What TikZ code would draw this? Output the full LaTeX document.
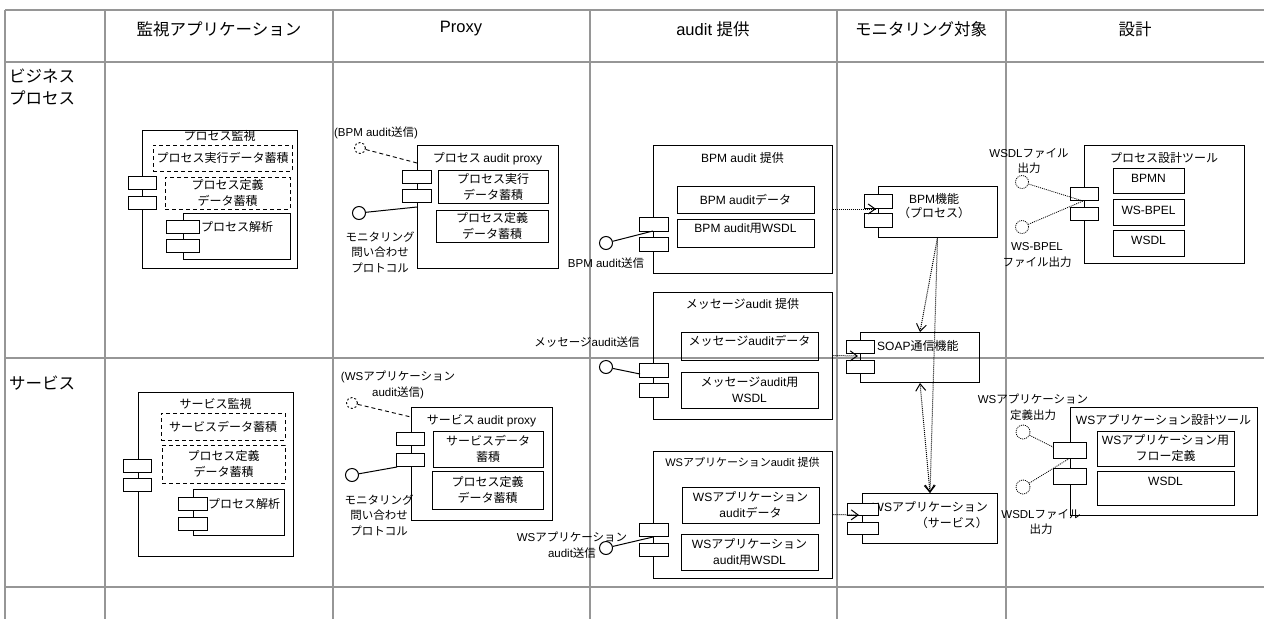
\documentclass[tikz,border=0pt]{standalone}
\usepackage{fontspec}
\setmainfont{Liberation Sans}
\newfontfamily\jpfont{Noto Sans CJK JP}
\XeTeXinterchartokenstate=1
\newXeTeXintercharclass\JPclass
\count255="3000 \loop\XeTeXcharclass\count255=\JPclass\ifnum\count255<"30FF \advance\count255 by 1 \repeat
\count255="4E00 \loop\XeTeXcharclass\count255=\JPclass\ifnum\count255<"9FFF \advance\count255 by 1 \repeat
\count255="FF00 \loop\XeTeXcharclass\count255=\JPclass\ifnum\count255<"FFEF \advance\count255 by 1 \repeat
\XeTeXinterchartoks 0 \JPclass = {\jpfont}
\XeTeXinterchartoks 4095 \JPclass = {\jpfont}
\XeTeXinterchartoks \JPclass 0 = {\rmfamily}
\XeTeXinterchartoks 4095 0 = {\rmfamily}
\usetikzlibrary{arrows.meta,positioning}
\definecolor{GridGray}{RGB}{150,150,150}

\begin{document}
\begin{tikzpicture}[x=1pt,y=-1pt,
    tbl/.style={draw=GridGray,line width=1.6pt},
    hdr/.style={inner sep=0,align=left,font=\fontsize{16.5}{22}\selectfont},
    sz/.style 2 args={minimum width=#1pt,minimum height=#2pt},
    comp/.style={draw,line width=1pt,inner sep=0},
    port/.style={draw,line width=1pt,fill=white,inner sep=0,minimum width=28pt,minimum height=13pt},
    part/.style={draw,line width=1pt,inner sep=0,align=center,font=\fontsize{12}{16}\selectfont},
    store/.style={part,dash pattern=on 4pt off 3pt},
    lift/.style={text height=9pt,text depth=#1},
    ttl/.style={inner sep=0,align=center,font=\fontsize{12}{16}\selectfont},
    lbl/.style={inner sep=0,align=center,font=\fontsize{11.5}{15.5}\selectfont},
    iface/.style={draw,line width=1pt,circle,fill=white,inner sep=0,minimum size=13pt},
    req/.style={draw,line width=0.9pt,circle,inner sep=0,minimum size=11pt,dash pattern=on 2pt off 2pt},
    optif/.style={draw,line width=0.8pt,circle,inner sep=0,minimum size=13pt,dash pattern=on 1pt off 1pt},
    wire/.style={line width=1pt},
    reqwire/.style={line width=0.9pt,dash pattern=on 4pt off 3pt},
    optwire/.style={line width=0.8pt,dash pattern=on 1pt off 1pt},
    dep/.style={line width=1pt,dash pattern=on 1pt off 1pt,-{Straight Barb[length=7pt,width=10pt]}},
    depboth/.style={line width=1pt,dash pattern=on 1pt off 1pt,{Straight Barb[length=7pt,width=10pt]}-{Straight Barb[length=7pt,width=10pt]}}
  ]
  \useasboundingbox (0,0) rectangle (1264,619);

  % table
  \foreach \x in {5,105,333,590,837,1006} \draw[tbl] (\x,10) -- (\x,619);
  \foreach \y in {10,62,358,587} \draw[tbl] (5,\y) -- (1264,\y);

  \node[hdr] (hMon) at (219,29) {監視アプリケーション};
  \node[hdr] (hPrx) at (461,29) {Proxy};
  \node[hdr] (hAud) at (713,29) {audit 提供};
  \node[hdr] (hTgt) at (921,29) {モニタリング対象};
  \node[hdr] (hDes) at (1135,29) {設計};
  \node[hdr,anchor=north west] (rBiz) at (9,69) {ビジネス\\プロセス};
  \node[hdr,anchor=north west] (rSvc) at (9,376) {サービス};

  % monitoring application
  \node[comp,sz={155}{138}] (pMon) at (219.5,199) {};
  \node[ttl,below=1pt of pMon.north] (pMonT) {プロセス監視};
  \node[store,sz={139}{26}] (pMonS1) at (222.5,158) {プロセス実行データ蓄積};
  \node[store,sz={125}{32}] (pMonS2) at (227.5,193) {プロセス定義\\データ蓄積};
  \node[port] (pMon-p1) at (142,183) {};
  \node[port] (pMon-p2) at (142,203) {};
  \node[comp,sz={107}{46}] (pAna) at (236.5,236) {};
  \node[port,minimum width=33pt] (pAna-p1) at (183,227) {};
  \node[port,minimum width=33pt] (pAna-p2) at (183,246) {};
  \node[ttl,right=1pt of pAna-p1] (pAnaT) {プロセス解析};

  \node[comp,sz={155}{164}] (sMon) at (215.5,474) {};
  \node[ttl,below=7pt of sMon.north] (sMonT) {サービス監視};
  \node[store,sz={124}{27}] (sMonS1) at (223,426.5) {サービスデータ蓄積};
  \node[store,sz={123}{38}] (sMonS2) at (223.5,464) {プロセス定義\\データ蓄積};
  \node[port] (sMon-p1) at (137,465.5) {};
  \node[port] (sMon-p2) at (137,485) {};
  \node[comp,sz={91}{46}] (sAna) at (238.5,512) {};
  \node[port,minimum width=29pt] (sAna-p1) at (192.5,503.5) {};
  \node[port,minimum width=29pt] (sAna-p2) at (192.5,523.5) {};
  \node[ttl,right=0.5pt of sAna-p1] (sAnaT) {プロセス解析};

  % proxy
  \node[comp,sz={141}{123}] (pPrx) at (487.5,206.5) {};
  \node[ttl,below=8pt of pPrx.north] (pPrxT) {プロセス audit proxy};
  \node[part,sz={110}{33}] (pPrxS1) at (493,186.5) {プロセス実行\\データ蓄積};
  \node[part,sz={112}{32}] (pPrxS2) at (492,226) {プロセス定義\\データ蓄積};
  \node[port,minimum width=29pt] (pPrx-p1) at (416.5,176.5) {};
  \node[port,minimum width=29pt] (pPrx-p2) at (416.5,196) {};
  \node[req] (pPrxR) at (360,148) {};
  \node[lbl] (pPrxRT) at (376,133) {(BPM audit送信)};
  \coordinate (pPrxRin) at (417,163);
  \draw[reqwire] (pPrxR) -- (pPrxRin);
  \node[iface] (pPrxI) at (359,213) {};
  \coordinate (pPrxIin) at (417,207);
  \draw[wire] (pPrxI) -- (pPrxIin);
  \node[lbl] (pPrxIT) at (380,252) {モニタリング\\問い合わせ\\プロトコル};

  \node[comp,sz={141}{113}] (sPrx) at (481.5,463.5) {};
  \node[ttl,below=8pt of sPrx.north] (sPrxT) {サービス audit proxy};
  \node[part,sz={110}{36}] (sPrxS1) at (488,449) {サービスデータ\\蓄積};
  \node[part,sz={111}{38}] (sPrxS2) at (487.5,490) {プロセス定義\\データ蓄積};
  \node[port] (sPrx-p1) at (410,438.5) {};
  \node[port] (sPrx-p2) at (410,459.5) {};
  \node[req] (sPrxR) at (352,403) {};
  \node[lbl] (sPrxRT) at (398,385) {(WSアプリケーション\\audit送信)};
  \coordinate (sPrxRin) at (411,417);
  \draw[reqwire] (sPrxR) -- (sPrxRin);
  \node[iface] (sPrxI) at (352,475) {};
  \coordinate (sPrxIin) at (397,467);
  \draw[wire] (sPrxI) -- (sPrxIin);
  \node[lbl] (sPrxIT) at (379,515) {モニタリング\\問い合わせ\\プロトコル};

  % audit providers
  \node[comp,sz={179}{128}] (bAud) at (742.5,209) {};
  \node[ttl,below=8pt of bAud.north] (bAudT) {BPM audit 提供};
  \node[part,sz={137}{27}] (bAudD) at (745.5,199.5) {BPM auditデータ};
  \node[part,sz={137}{28},lift=10pt] (bAudW) at (745.5,233) {BPM audit用WSDL};
  \node[port,minimum width=29pt,minimum height=14pt] (bAud-p1) at (653.5,224) {};
  \node[port,minimum width=29pt,minimum height=14pt] (bAud-p2) at (653.5,244) {};
  \node[iface] (bAudI) at (606,243) {};
  \coordinate (bAudIin) at (653,231);
  \draw[wire] (bAudI) -- (bAudIin);
  \node[lbl] (bAudIT) at (606,263) {BPM audit送信};

  \node[comp,sz={179}{127}] (mAud) at (742.5,355.5) {};
  \node[ttl,below=7pt of mAud.north] (mAudT) {メッセージaudit 提供};
  \node[part,sz={137}{28},lift=10pt] (mAudD) at (749.5,346) {メッセージauditデータ};
  \node[part,sz={137}{36}] (mAudW) at (749.5,390) {メッセージaudit用\\WSDL};
  \node[port,minimum width=29pt,minimum height=14pt] (mAud-p1) at (653.5,370) {};
  \node[port,minimum width=29pt,minimum height=14pt] (mAud-p2) at (653.5,390) {};
  \node[iface] (mAudI) at (606,367) {};
  \coordinate (mAudIin) at (640,374);
  \draw[wire] (mAudI) -- (mAudIin);
  \node[lbl] (mAudIT) at (587,342) {メッセージaudit送信};

  \node[comp,sz={179}{127}] (wAud) at (742.5,514.5) {};
  \node[ttl,below=7pt of wAud.north,font=\fontsize{11}{16}\selectfont] (wAudT) {WSアプリケーションaudit 提供};
  \node[part,sz={137}{36}] (wAudD) at (750.5,505) {WSアプリケーション\\auditデータ};
  \node[part,sz={137}{36}] (wAudW) at (749.5,552) {WSアプリケーション\\audit用WSDL};
  \node[port,minimum width=29pt] (wAud-p1) at (653.5,529.5) {};
  \node[port,minimum width=29pt] (wAud-p2) at (653.5,549.5) {};
  \node[iface] (wAudI) at (606,548) {};
  \coordinate (wAudIin) at (653,537);
  \draw[wire] (wAudI) -- (wAudIin);
  \node[lbl] (wAudIT) at (572,545) {WSアプリケーション\\audit送信};

  % monitored targets
  \node[comp,sz={119}{51}] (bFn) at (937.5,211.5) {};
  \node[ttl,font=\fontsize{12}{14}\selectfont] (bFnT) at (934,206.5) {BPM機能\\（プロセス）};
  \node[port,minimum height=14pt] (bFn-p1) at (878,201) {};
  \node[port,minimum height=14pt] (bFn-p2) at (878,220.5) {};

  \node[comp,sz={119}{50}] (soap) at (919.5,357) {};
  \node[ttl,anchor=west] (soapT) at (877,346) {SOAP通信機能};
  \node[port] (soap-p1) at (860,347) {};
  \node[port] (soap-p2) at (860,366.5) {};

  \node[comp,sz={135}{50}] (wsApp) at (929.5,518) {};
  \node[ttl,align=right,anchor=east] (wsAppT) at (988,515) {WSアプリケーション\\（サービス）};
  \node[port,minimum width=31pt,minimum height=12pt] (wsApp-p1) at (862.5,509) {};
  \node[port,minimum width=31pt,minimum height=12pt] (wsApp-p2) at (862.5,528) {};

  \coordinate (bFnIn) at (876,209);
  \coordinate (soapIn) at (858,356);
  \coordinate (wsAppIn) at (859,515);
  \coordinate (soapTop) at (920,332);
  \coordinate (soapBot) at (920,383);
  \coordinate (wsAppTop) at (930,493);
  \draw[dep] (bAud.east) -- (bFnIn);
  \draw[dep] (mAud.east) -- (soapIn);
  \draw[dep] (wAud.east) -- (wsAppIn);
  \draw[dep] (bFn.south) -- (soapTop);
  \draw[dep] (bFn.south) -- (wsAppTop);
  \draw[depboth] (soapBot) -- (wsAppTop);

  % design tools
  \node[comp,sz={160}{118}] (pDes) at (1164,204) {};
  \node[ttl,below=8pt of pDes.north] (pDesT) {プロセス設計ツール};
  \node[part,sz={71}{25},lift=6pt] (pDesA) at (1148.5,180.5) {BPMN};
  \node[part,sz={71}{26},lift=4pt] (pDesB) at (1148.5,212) {WS-BPEL};
  \node[part,sz={71}{26},lift=6pt] (pDesC) at (1148.5,243) {WSDL};
  \node[port] (pDes-p1) at (1084,193.5) {};
  \node[port] (pDes-p2) at (1084,213.5) {};
  \node[optif] (pDesO1) at (1022,182) {};
  \node[optif] (pDesO2) at (1022,227) {};
  \coordinate (pDesIn) at (1083,201);
  \draw[optwire] (pDesO1) -- (pDesIn);
  \draw[optwire] (pDesO2) -- (pDesIn);
  \node[lbl] (pDesO1T) at (1029,161) {WSDLファイル\\出力};
  \node[lbl] (pDesO2T) at (1037,255) {WS-BPEL\\ファイル出力};

  \node[comp,sz={187}{108}] (wDes) at (1163.5,461) {};
  \node[ttl,below=8pt of wDes.north] (wDesT) {WSアプリケーション設計ツール};
  \node[part,sz={137}{35}] (wDesA) at (1165.5,448.5) {WSアプリケーション用\\フロー定義};
  \node[part,sz={137}{34},lift=14pt] (wDesB) at (1165.5,488) {WSDL};
  \node[port,minimum width=33pt,minimum height=16pt] (wDes-p1) at (1069.5,450) {};
  \node[port,minimum width=33pt,minimum height=16pt] (wDes-p2) at (1069.5,476) {};
  \node[optif,minimum size=14pt] (wDesO1) at (1023,432) {};
  \node[optif,minimum size=14pt] (wDesO2) at (1023,487) {};
  \coordinate (wDesIn1) at (1053,447);
  \coordinate (wDesIn2) at (1070,458);
  \draw[optwire] (wDesO1) -- (wDesIn1);
  \draw[optwire] (wDesO2) -- (wDesIn2);
  \node[lbl] (wDesO1T) at (1033,407) {WSアプリケーション\\定義出力};
  \node[lbl] (wDesO2T) at (1041,522) {WSDLファイル\\出力};
\end{tikzpicture}
\end{document}
